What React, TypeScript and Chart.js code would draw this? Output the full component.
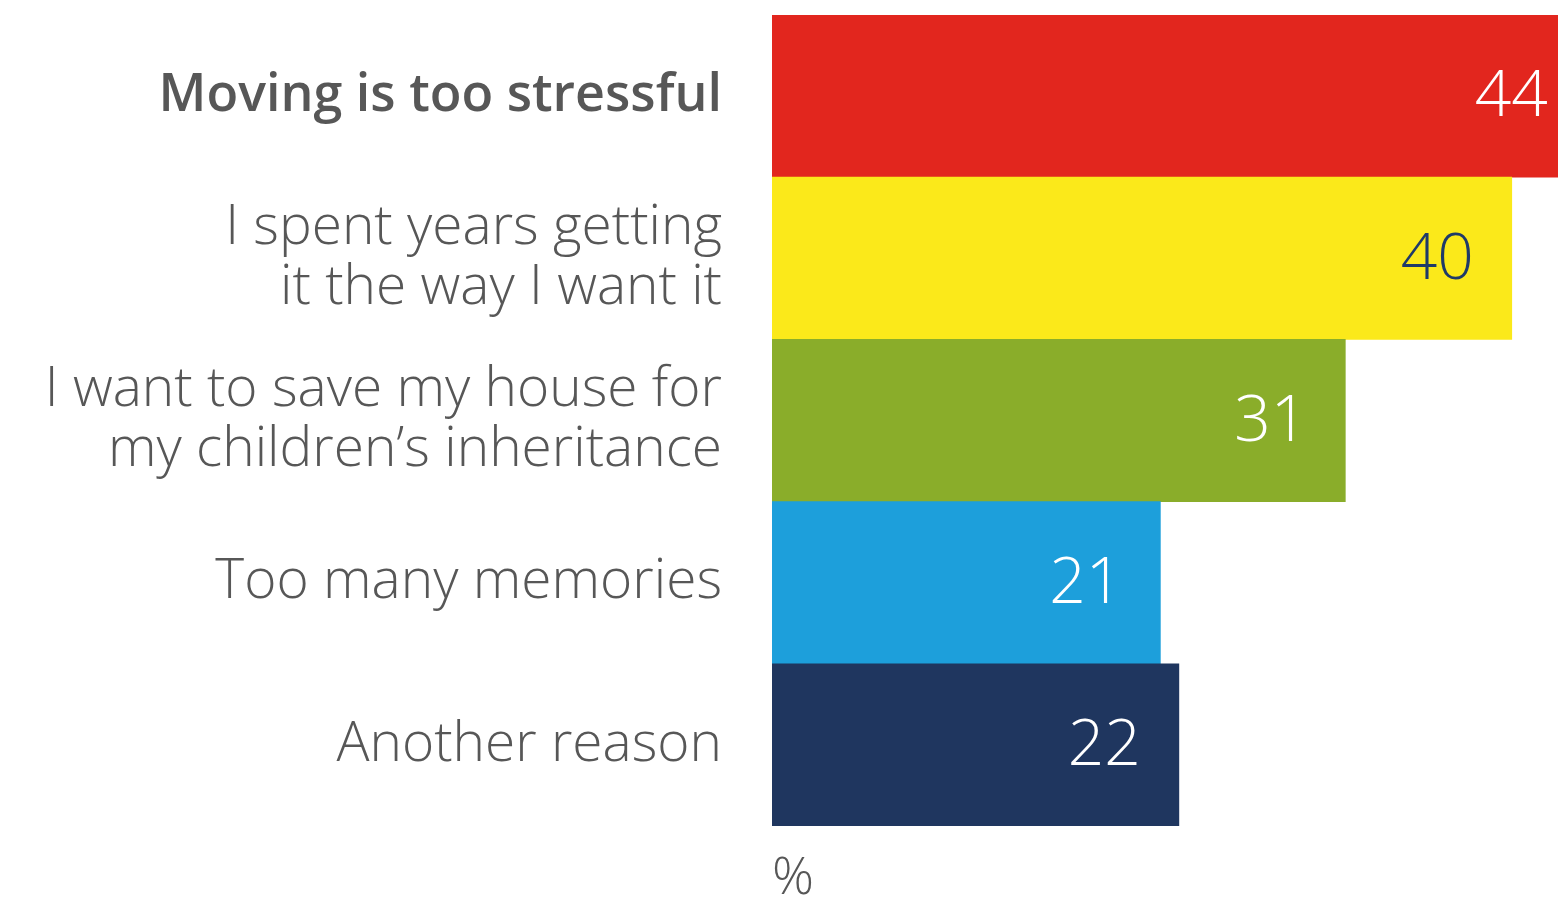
import React, { useEffect, useRef } from "react";
import { Chart, registerables } from "chart.js";

Chart.register(...registerables);

const categories: (string | string[])[] = [
  "Moving is too stressful",
  ["I spent years getting", "it the way I want it"],
  ["I want to save my house for", "my children\u2019s inheritance"],
  "Too many memories",
  "Another reason",
];
const values: number[] = [44, 40, 31, 21, 22];
const barColors: string[] = ["#E2261E", "#FBE91A", "#8AAD2A", "#1D9FDB", "#1F365F"];
const labelColors: string[] = ["#FFFFFF", "#1F3A68", "#FFFFFF", "#FFFFFF", "#FFFFFF"];
const unitLabel = "%";

const FONT = "'Open Sans', Lato, sans-serif";

const valueLabels = {
  id: "valueLabels",
  afterDatasetsDraw(chart: any) {
    const ctx = chart.ctx;
    const meta = chart.getDatasetMeta(0);
    ctx.save();
    ctx.font = `300 64px ${FONT}`;
    ctx.textAlign = "right";
    ctx.textBaseline = "middle";
    meta.data.forEach((el: any, i: number) => {
      ctx.fillStyle = labelColors[i];
      ctx.fillText(String(values[i]), el.x - 38, el.y + 2);
    });
    ctx.restore();
  },
};

export default function App() {
  const ref = useRef<HTMLCanvasElement>(null);
  useEffect(() => {
    if (!ref.current) return;
    const chart = new Chart(ref.current, {
      type: "bar",
      data: {
        labels: categories,
        datasets: [
          {
            data: values,
            backgroundColor: barColors,
            borderWidth: 0,
            barPercentage: 1,
            categoryPercentage: 1,
          },
        ],
      },
      options: {
        indexAxis: "y",
        responsive: false,
        animation: false,
        layout: { padding: { top: 15, right: 0, bottom: 0, left: 0 } },
        plugins: { legend: { display: false }, tooltip: { enabled: false } },
        scales: {
          x: {
            min: 0,
            max: 42.5,
            grid: { display: false, drawTicks: false },
            border: { display: false },
            ticks: { display: false },
            title: {
              display: true,
              text: unitLabel,
              align: "start",
              color: "#575757",
              font: { family: FONT, size: 52, weight: "300", lineHeight: 1 },
              padding: { top: 0, bottom: -5 },
            },
            afterFit: (s: any) => {
              s.height = 74;
              s.paddingLeft = 0;
              s.paddingRight = 0;
            },
          },
          y: {
            grid: { display: false, drawTicks: false },
            border: { display: false },
            ticks: {
              padding: 50,
              color: "#575757",
              font: (c: any) =>
                c.index === 0
                  ? { family: FONT, size: 52, lineHeight: 1.1, weight: "600" }
                  : { family: FONT, size: 55, lineHeight: 1.09, weight: "300" },
            },
            afterFit: (s: any) => {
              s.width = 772;
              s.paddingTop = 0;
              s.paddingBottom = 0;
            },
          },
        },
      },
      plugins: [valueLabels],
    });
    return () => chart.destroy();
  }, []);
  return (
    <div style={{ position: "fixed", left: 0, top: 0, width: 1558, height: 900, background: "#fff" }}>
      <canvas ref={ref} width={1558} height={900} />
    </div>
  );
}
